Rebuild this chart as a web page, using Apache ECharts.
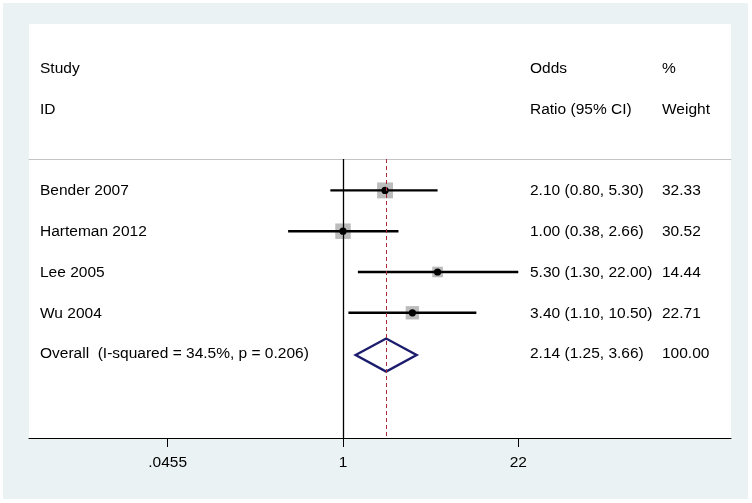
<!DOCTYPE html>
<html>
<head>
<meta charset="utf-8">
<script src="https://cdn.jsdelivr.net/npm/echarts@6/dist/echarts.min.js"></script>
<style>html,body{margin:0;padding:0;background:#fff}#c{width:752px;height:503px}</style>
</head>
<body>
<div id="c"></div>
<script>
// ---- data ----
const studies = ['Bender 2007', 'Harteman 2012', 'Lee 2005', 'Wu 2004'];
const oddsRatios = [2.10, 1.00, 5.30, 3.40];
const ciLow = [0.80, 0.38, 1.30, 1.10];
const ciHigh = [5.30, 2.66, 22.00, 10.50];
const weights = [32.33, 30.52, 14.44, 22.71];
const overallLabel = 'Overall  (I-squared = 34.5%, p = 0.206)';
const overallOR = 2.14;
const overallLow = 1.25;
const overallHigh = 3.66;
const overallWeight = 100.00;
const headerLine1 = ['Study', 'Odds', '%'];
const headerLine2 = ['ID', 'Ratio (95% CI)', 'Weight'];
const xTickValues = [1 / 22, 1, 22];
const xTickLabels = ['.0455', '1', '22'];

// ---- layout / style ----
const FONT = '"Liberation Sans", Arial, sans-serif';
const FS = 15.5;
const COL_X = [40, 530, 662];
const rowOf = i => i + 1;            // study rows 1..4
const overallRow = studies.length + 1;

function ciText(o, l, h) {
  return o.toFixed(2) + ' (' + l.toFixed(2) + ', ' + h.toFixed(2) + ')';
}

const studyData = studies.map((s, i) => [oddsRatios[i], rowOf(i), ciLow[i], ciHigh[i], weights[i]]);

const textRows = [];
headerLine1.forEach((t, c) => textRows.push([1, -2, c, t]));
headerLine2.forEach((t, c) => textRows.push([1, -1, c, t]));
studies.forEach((s, i) => {
  textRows.push([1, rowOf(i), 0, s]);
  textRows.push([1, rowOf(i), 1, ciText(oddsRatios[i], ciLow[i], ciHigh[i])]);
  textRows.push([1, rowOf(i), 2, weights[i].toFixed(2)]);
});
textRows.push([1, overallRow, 0, overallLabel]);
textRows.push([1, overallRow, 1, ciText(overallOR, overallLow, overallHigh)]);
textRows.push([1, overallRow, 2, overallWeight.toFixed(2)]);

const chart = echarts.init(document.getElementById('c'), null, {renderer: 'canvas'});
const option = {
  animation: false,
  backgroundColor: '#ffffff',
  graphic: [
    {type: 'rect', z: -100, shape: {x: 3, y: 3, width: 745, height: 496}, style: {fill: 'rgb(234,242,243)'}},
    {type: 'rect', z: -99, shape: {x: 29, y: 24, width: 702, height: 414}, style: {fill: '#ffffff'}}
  ],
  grid: [
    {left: 29, right: 21, top: 159, bottom: 65, containLabel: false},
    {left: 167.7, width: 350.6, top: 159, bottom: 65, containLabel: false}
  ],
  xAxis: [
    {gridIndex: 0, type: 'value', min: 0, max: 1, position: 'bottom',
     axisLine: {show: true, lineStyle: {color: '#000', width: 1}},
     axisTick: {show: false}, axisLabel: {show: false}, splitLine: {show: false}},
    {gridIndex: 0, type: 'value', min: 0, max: 1, position: 'top',
     axisLine: {show: true, lineStyle: {color: '#c4c4c4', width: 1}},
     axisTick: {show: false}, axisLabel: {show: false}, splitLine: {show: false}},
    {gridIndex: 1, type: 'log', logBase: 22, min: xTickValues[0], max: xTickValues[2], splitNumber: 2,
     position: 'bottom',
     axisLine: {show: false},
     axisTick: {show: true, length: 9, lineStyle: {color: '#000', width: 1}},
     axisLabel: {show: true, margin: 17, fontSize: FS, fontFamily: FONT, color: '#000',
       formatter: v => {
         const i = xTickValues.findIndex(t => Math.abs(Math.log(t) - Math.log(v)) < 1e-6);
         return i >= 0 ? xTickLabels[i] : '';
       }},
     splitLine: {show: false}}
  ],
  yAxis: [
    {gridIndex: 0, type: 'value', show: false, min: 0, max: 1},
    {gridIndex: 1, type: 'value', show: false, inverse: true, min: 0.23, max: 7.07}
  ],
  series: [
    {
      type: 'custom', xAxisIndex: 2, yAxisIndex: 1, clip: false, z: 3,
      data: studyData,
      renderItem: (params, api) => {
        const y = api.value(1);
        const p = api.coord([api.value(0), y]);
        const a = api.coord([api.value(2), y]);
        const b = api.coord([api.value(3), y]);
        const s = 2.8 * Math.sqrt(api.value(4));
        return {type: 'group', children: [
          {type: 'rect', shape: {x: p[0] - s / 2, y: p[1] - s / 2, width: s, height: s},
           style: {fill: '#bcbcbc'}},
          {type: 'line', shape: {x1: a[0], y1: a[1], x2: b[0], y2: b[1]},
           style: {stroke: '#000', lineWidth: 2.4}},
          {type: 'circle', shape: {cx: p[0], cy: p[1], r: 3.6}, style: {fill: '#000'}}
        ]};
      },
      markLine: {
        silent: true, symbol: 'none', label: {show: false},
        data: [
          {xAxis: 1, lineStyle: {color: '#000', width: 1.3, type: 'solid'}},
          {xAxis: overallOR, lineStyle: {color: '#a8283c', width: 1, type: [4, 3]}}
        ]
      }
    },
    {
      type: 'custom', xAxisIndex: 2, yAxisIndex: 1, clip: false, z: 4,
      data: [[overallOR, overallRow, overallLow, overallHigh]],
      renderItem: (params, api) => {
        const y = api.value(1);
        const c = api.coord([api.value(0), y]);
        const l = api.coord([api.value(2), y]);
        const r = api.coord([api.value(3), y]);
        const h = 16.5;
        return {type: 'polygon',
          shape: {points: [[l[0], c[1] + 1.5], [c[0], c[1] + 1.5 - h], [r[0], c[1] + 1.5], [c[0], c[1] + 1.5 + h]]},
          style: {fill: 'none', stroke: '#1c1c6e', lineWidth: 2.4, lineJoin: 'miter'}};
      }
    },
    {
      type: 'custom', xAxisIndex: 2, yAxisIndex: 1, clip: false, z: 5,
      data: textRows,
      renderItem: (params, api) => {
        const p = api.coord([api.value(0), api.value(1)]);
        const col = api.value(2);
        return {type: 'text', x: COL_X[col], y: p[1] + 0.5,
          style: {text: textRows[params.dataIndex][3], fill: '#000', font: FS + 'px ' + FONT,
                  textAlign: 'left', textVerticalAlign: 'middle'}};
      }
    }
  ]
};
chart.setOption(option);
</script>
</body>
</html>
